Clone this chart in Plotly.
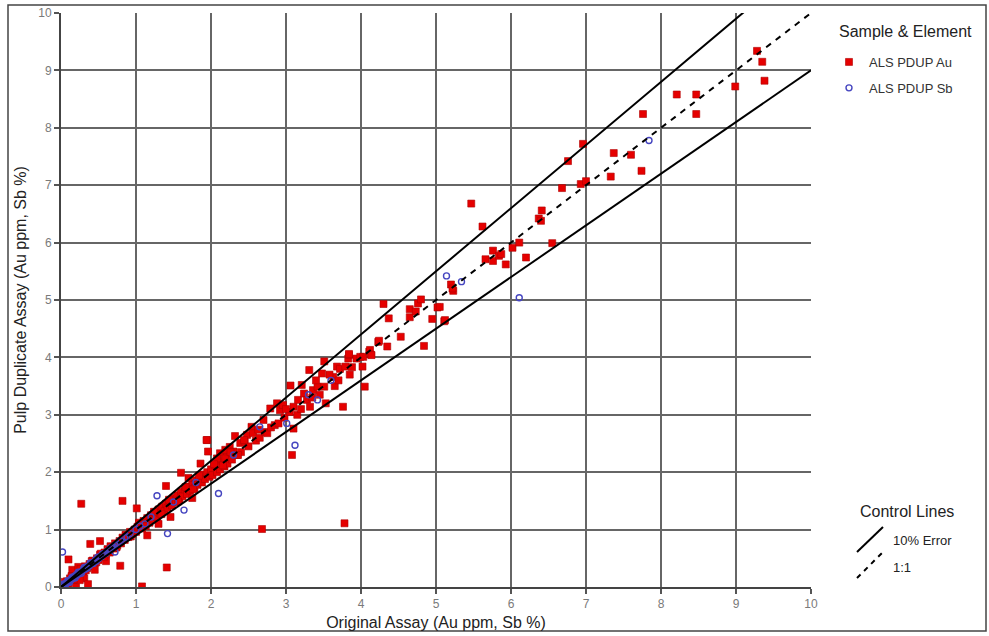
import plotly.graph_objects as go

# ---------------------------------------------------------------------------
# Assay pairs: original assay (x) vs pulp duplicate assay (y)
# ---------------------------------------------------------------------------
au_orig = [
    0.02, 0.05, 0.08, 0.10, 0.12, 0.15, 0.18, 0.20, 0.22, 0.25, 0.28, 0.30, 0.32, 0.35,
    0.38, 0.40, 0.42, 0.45, 0.48, 0.50, 0.52, 0.55, 0.58, 0.60, 0.62, 0.65, 0.68, 0.70,
    0.72, 0.75, 0.78, 0.80, 0.82, 0.85, 0.88, 0.90, 0.92, 0.95, 0.98,
    0.10, 0.39, 0.52, 0.31, 0.36, 0.79, 0.27, 0.82, 0.20, 0.45, 0.15, 0.60, 0.25, 0.23,
    1.00, 1.02, 1.05, 1.08, 1.10, 1.12, 1.15, 1.18, 1.20, 1.22, 1.25, 1.28, 1.30, 1.32,
    1.35, 1.38, 1.40, 1.42, 1.45, 1.48, 1.50, 1.52, 1.55, 1.58, 1.60, 1.62, 1.65, 1.68,
    1.70, 1.72, 1.75, 1.78, 1.80, 1.82, 1.85, 1.88, 1.90, 1.92, 1.95, 1.98,
    1.40, 1.60, 1.86, 1.95, 1.96, 1.46, 1.41, 1.08, 1.01, 1.15, 1.30, 1.70, 1.75,
    2.00, 2.02, 2.05, 2.08, 2.10, 2.12, 2.15, 2.18, 2.20, 2.22, 2.25, 2.28, 2.30, 2.32,
    2.35, 2.39, 2.40, 2.45, 2.48, 2.50, 2.54, 2.56, 2.60, 2.63, 2.65, 2.70, 2.72, 2.75,
    2.79, 2.80, 2.85, 2.88, 2.90, 2.92, 2.96, 2.98, 1.94, 2.12, 2.19, 2.19, 2.08, 2.68,
    3.05, 3.06, 3.08, 3.10, 3.10, 3.16, 3.21, 3.24, 3.28, 3.32, 3.31, 3.36, 3.42, 3.48,
    3.51, 3.51, 3.53, 3.63, 3.65, 3.68, 3.72, 3.76, 3.79, 3.83, 3.84, 3.88, 3.94, 3.99,
    3.78, 3.15, 3.35, 3.45, 3.58, 3.70, 3.85, 3.40, 3.20, 3.00,
    4.02, 4.03, 4.05, 4.11, 4.12, 4.13, 4.14, 4.23, 4.24, 4.30, 4.35, 4.37, 4.53, 4.65,
    4.65, 4.73, 4.76, 4.80, 4.84, 4.95, 5.02, 5.05, 5.11, 3.84,
    5.12, 5.20, 5.23, 5.22, 5.47, 5.62, 5.66, 5.76, 5.76, 5.84, 5.87, 5.93, 6.02, 6.11,
    6.20, 6.37, 6.40, 6.41, 6.55, 6.68, 6.76, 6.93, 6.96, 7.00, 7.33, 7.37, 7.60, 7.74,
    7.76, 8.21, 8.47, 8.47, 8.99, 9.28, 9.35, 9.38,
    0.05, 0.09, 0.14, 0.17, 0.26, 0.33, 0.41, 0.47, 0.53, 0.57, 0.66, 0.74, 0.86, 0.93,
    1.04, 1.13, 1.24, 1.34, 1.44, 1.56, 1.66, 1.76, 1.84, 2.04, 2.16, 2.26, 2.36, 2.44,
]
au_dup = [
    0.03, 0.04, 0.10, 0.07, 0.15, 0.12, 0.20, 0.17, 0.25, 0.22, 0.30, 0.27, 0.36, 0.33,
    0.40, 0.36, 0.46, 0.42, 0.50, 0.47, 0.56, 0.52, 0.60, 0.57, 0.66, 0.60, 0.70, 0.67,
    0.76, 0.72, 0.80, 0.76, 0.86, 0.82, 0.90, 0.87, 0.96, 0.92, 1.00,
    0.48, 0.75, 0.80, 0.15, 0.05, 0.37, 1.45, 1.50, 0.00, 0.30, 0.30, 0.45, 0.12, 0.35,
    0.96, 1.05, 1.10, 1.02, 1.15, 1.08, 1.20, 1.12, 1.25, 1.18, 1.30, 1.22, 1.35, 1.28,
    1.40, 1.32, 1.45, 1.38, 1.50, 1.42, 1.55, 1.48, 1.60, 1.52, 1.66, 1.58, 1.70, 1.62,
    1.75, 1.68, 1.80, 1.72, 1.86, 1.78, 1.90, 1.82, 1.96, 1.88, 2.00, 1.92,
    1.76, 1.99, 2.15, 2.56, 2.36, 1.22, 0.34, 0.01, 1.37, 0.90, 1.10, 1.90, 1.55,
    2.05, 1.95, 2.12, 2.00, 2.18, 2.05, 2.20, 2.10, 2.28, 2.15, 2.44, 2.22, 2.36, 2.63,
    2.30, 2.51, 2.35, 2.53, 2.65, 2.45, 2.79, 2.68, 2.55, 2.74, 2.60, 2.91, 2.70, 2.68,
    3.11, 2.78, 2.82, 3.20, 2.85, 3.08, 3.17, 2.95, 2.56, 2.33, 2.39, 2.24, 2.24, 1.01,
    3.05, 3.51, 2.30, 2.76, 3.14, 3.26, 3.52, 3.37, 3.26, 3.14, 3.78, 3.43, 3.49, 3.72,
    3.49, 3.93, 3.20, 3.66, 3.50, 3.84, 3.80, 3.14, 3.84, 3.98, 4.04, 3.83, 3.98, 4.01,
    1.11, 3.00, 3.30, 3.35, 3.70, 3.60, 3.70, 3.60, 3.10, 3.10,
    3.84, 4.01, 3.49, 4.10, 4.13, 4.05, 4.04, 4.27, 4.29, 4.93, 4.19, 4.68, 4.36, 4.84,
    4.70, 4.80, 4.94, 5.01, 4.20, 4.67, 4.87, 4.88, 4.63, 4.06,
    4.65, 5.27, 5.16, 5.20, 6.68, 6.28, 5.71, 5.86, 5.68, 5.77, 5.80, 5.62, 5.91, 6.00,
    5.74, 6.42, 6.38, 6.56, 5.99, 6.95, 7.42, 7.02, 7.72, 7.07, 7.15, 7.56, 7.53, 7.25,
    8.24, 8.58, 8.58, 8.24, 8.72, 9.34, 9.15, 8.82,
    0.09, 0.06, 0.19, 0.13, 0.31, 0.29, 0.45, 0.43, 0.58, 0.52, 0.71, 0.69, 0.91, 0.88,
    1.12, 1.06, 1.31, 1.27, 1.52, 1.49, 1.74, 1.70, 1.94, 2.14, 2.12, 2.35, 2.30, 2.56,
]

sb_orig = [
    0.00, 0.02, 0.04, 0.06, 0.08, 0.10, 0.12, 0.14, 0.16, 0.18, 0.20, 0.22, 0.24, 0.26,
    0.28, 0.30, 0.32, 0.34, 0.36, 0.38, 0.40, 0.42, 0.44, 0.46, 0.48, 0.50, 0.52, 0.54,
    0.56, 0.58, 0.60, 0.62, 0.65, 0.68, 0.70, 0.72, 0.75, 0.78, 0.80, 0.85, 0.88, 0.92,
    0.03, 0.07, 0.13, 0.21, 0.33, 0.47, 0.57, 0.66,
    0.01, 0.05, 0.09, 0.11, 0.15, 0.19, 0.23, 0.27, 0.31, 0.35, 0.39, 0.43, 0.49, 0.55,
    0.02, 0.72, 1.00, 1.05, 1.12, 1.20, 1.28, 1.64, 1.42, 2.10, 1.50, 1.80,
    2.30, 2.65, 3.01, 3.12, 3.42, 3.30, 3.60, 5.14, 5.34, 6.11, 7.84,
]
sb_dup = [
    0.00, 0.02, 0.05, 0.05, 0.08, 0.11, 0.10, 0.15, 0.15, 0.19, 0.20, 0.21, 0.25, 0.26,
    0.27, 0.31, 0.31, 0.35, 0.36, 0.37, 0.41, 0.42, 0.43, 0.47, 0.48, 0.49, 0.53, 0.53,
    0.57, 0.58, 0.59, 0.63, 0.64, 0.69, 0.70, 0.73, 0.74, 0.80, 0.80, 0.86, 0.87, 0.93,
    0.05, 0.06, 0.12, 0.22, 0.32, 0.45, 0.58, 0.68,
    0.04, 0.03, 0.11, 0.08, 0.17, 0.16, 0.26, 0.24, 0.34, 0.33, 0.42, 0.41, 0.52, 0.57,
    0.61, 0.61, 1.00, 1.06, 1.10, 1.22, 1.59, 1.34, 0.93, 1.63, 1.48, 1.82,
    2.30, 2.79, 2.85, 2.47, 3.26, 3.35, 3.60, 5.42, 5.32, 5.04, 7.78,
]

# Control line definitions (1:1 and +/-10% envelopes)
line_x = [0, 10]
error_pct = 10
axis_ticks = list(range(0, 11))

FONT = "Liberation Sans, Arial, sans-serif"

fig = go.Figure()

fig.add_trace(go.Scatter(
    x=au_orig, y=au_dup, mode="markers", name="ALS PDUP Au",
    legendgroup="au",
    marker=dict(symbol="square", size=7, color="#e50000",
                line=dict(width=0.6, color="#b00000")),
))
fig.add_trace(go.Scatter(
    x=sb_orig, y=sb_dup, mode="markers", name="ALS PDUP Sb",
    legendgroup="sb",
    marker=dict(symbol="circle-open", size=6, color="#4545c0",
                line=dict(width=1.4)),
))

upper = [v * (1 + error_pct / 100) for v in line_x]
lower = [v * (1 - error_pct / 100) for v in line_x]
for ys in (upper, lower):
    fig.add_trace(go.Scatter(x=line_x, y=ys, mode="lines", showlegend=False,
                             line=dict(color="black", width=2), hoverinfo="skip"))
fig.add_trace(go.Scatter(x=line_x, y=line_x, mode="lines", showlegend=False,
                         line=dict(color="black", width=2, dash="6px,6px"),
                         hoverinfo="skip"))

W, H = 989, 636
ML, MR, MT, MB = 61, 178, 13, 49
PW, PH = W - ML - MR, H - MT - MB


def px(xp):
    return (xp - ML) / PW


def py(yp):
    return (H - MB - yp) / PH


axis_common = dict(
    range=[0, 10], tickvals=axis_ticks, showgrid=True, gridcolor="#666666",
    gridwidth=1.6, showline=True, linecolor="#444444", linewidth=2,
    ticks="outside", ticklen=5, tickcolor="#555555", tickwidth=1.5,
    tickfont=dict(family=FONT, size=12, color="#7a7a7a"), zeroline=False,
    title_font=dict(family=FONT, size=16, color="#222222"), automargin=False,
)

fig.update_layout(
    width=W, height=H,
    margin=dict(l=ML, r=MR, t=MT, b=MB),
    paper_bgcolor="white", plot_bgcolor="white",
    font=dict(family=FONT, color="#222222"),
    xaxis=dict(axis_common, title=dict(text="Original Assay (Au ppm, Sb %)", standoff=6)),
    yaxis=dict(axis_common, title=dict(text="Pulp Duplicate Assay (Au ppm, Sb %)", standoff=8)),
    legend=dict(
        font=dict(family=FONT, size=13, color="#333333"),
        x=px(829), y=py(47), xanchor="left", yanchor="top",
        tracegroupgap=6, bgcolor="rgba(0,0,0,0)", itemsizing="trace",
    ),
    showlegend=True,
)


def label(xp, yp, text, size, anchor="center"):
    fig.add_annotation(x=px(xp), y=py(yp), xref="paper", yref="paper", text=text,
                       showarrow=False, xanchor=anchor, yanchor="middle",
                       font=dict(family=FONT, size=size, color="#222222"))


# Legend heading for the sample markers
label(905, 32, "Sample & Element", 16)

# Control-line key drawn beside the plot
label(907, 511, "Control Lines", 16)
label(891, 540, "10% Error", 13, "left")
label(891, 567, "1:1", 13, "left")
fig.add_shape(type="line", xref="paper", yref="paper",
              x0=px(857), y0=py(552), x1=px(883), y1=py(527),
              line=dict(color="black", width=2))
fig.add_shape(type="line", xref="paper", yref="paper",
              x0=px(857), y0=py(578), x1=px(883), y1=py(552),
              line=dict(color="black", width=2, dash="5px,5px"))

# Page frame
fig.add_shape(type="rect", xref="paper", yref="paper", layer="below",
              x0=px(8), y0=py(631), x1=px(986), y1=py(5),
              line=dict(color="#444444", width=1.5))

fig.write_html("out.html")
